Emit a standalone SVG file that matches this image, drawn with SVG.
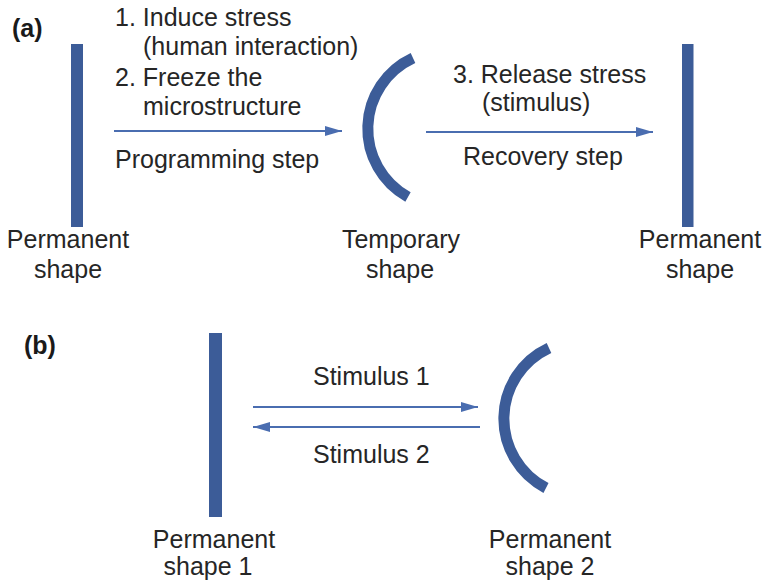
<svg xmlns="http://www.w3.org/2000/svg" width="764" height="581" viewBox="0 0 764 581">
<style>
text{font-family:"Liberation Sans",Arial,sans-serif;font-size:25px;fill:#262626}
.lbl{font-weight:bold;font-size:25px;fill:#1a1a1a}
.c{text-anchor:middle}
.bar{fill:#3c5c98}
.arc{fill:none;stroke:#3c5c98;stroke-width:11}
.ar{fill:none;stroke:#4a6db0;stroke-width:2}
</style>
<defs>
<marker id="ah" viewBox="0 0 17 10" refX="17" refY="5" markerWidth="17" markerHeight="10" markerUnits="userSpaceOnUse" orient="auto">
<path d="M0,0 L17,5 L0,10 z" fill="#4a6db0"/>
</marker>
</defs>
<rect width="764" height="581" fill="#fff"/>
<text class="lbl" x="12" y="37">(a)</text>
<text class="lbl" x="24" y="354">(b)</text>
<g id="a-perm-left">
<rect class="bar" x="71" y="44" width="12" height="183"/>
<text class="c" x="68" y="248">Permanent</text>
<text class="c" x="68" y="278">shape</text>
</g>
<g id="a-temp">
<path class="arc" d="M413,58 A78,78 0 0 0 408,197"/>
<text class="c" x="401" y="248">Temporary</text>
<text class="c" x="400" y="278">shape</text>
</g>
<g id="a-perm-right">
<rect class="bar" x="682" y="44" width="11.5" height="183"/>
<text class="c" x="700" y="248">Permanent</text>
<text class="c" x="700" y="278">shape</text>
</g>
<g id="b-perm1">
<rect class="bar" x="209" y="333" width="13" height="184"/>
<text class="c" x="214" y="548">Permanent</text>
<text class="c" x="208" y="575">shape 1</text>
</g>
<g id="b-perm2">
<path class="arc" d="M549,348 A78,78 0 0 0 546,488"/>
<text class="c" x="550" y="548">Permanent</text>
<text class="c" x="550" y="575">shape 2</text>
</g>
<g id="connectors">
<line class="ar" x1="114" y1="131" x2="342" y2="131" marker-end="url(#ah)"/>
<line class="ar" x1="426" y1="132" x2="653" y2="132" marker-end="url(#ah)"/>
<line class="ar" x1="253" y1="407" x2="478" y2="407" marker-end="url(#ah)"/>
<line class="ar" x1="480" y1="427" x2="253" y2="427" marker-end="url(#ah)"/>
</g>
<g id="labels">
<text x="115" y="26">1. Induce stress</text>
<text x="143" y="55">(human interaction)</text>
<text x="115" y="86">2. Freeze the</text>
<text x="143" y="115">microstructure</text>
<text x="115" y="168">Programming step</text>
<text x="453" y="83">3. Release stress</text>
<text x="482" y="111">(stimulus)</text>
<text x="463" y="165">Recovery step</text>
<text x="313" y="385">Stimulus 1</text>
<text x="313" y="463">Stimulus 2</text>
</g>
</svg>
